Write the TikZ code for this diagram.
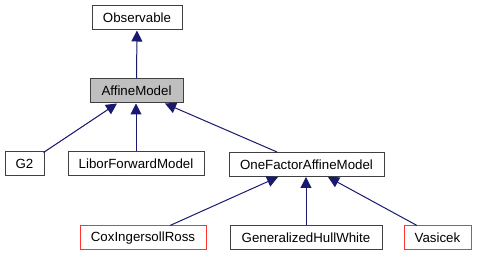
\documentclass[tikz,border=0pt]{standalone}
\usepackage{fontspec}
\setmainfont{Liberation Sans}
\usetikzlibrary{arrows.meta}
\definecolor{edgeblue}{HTML}{191970}
\definecolor{boxline}{HTML}{404040}
\definecolor{boxred}{HTML}{FF3333}
\definecolor{current}{HTML}{BFBFBF}
\tikzset{
  cls/.style={draw=boxline, line width=1pt, fill=white, inner sep=0pt,
    minimum height=24pt, font=\fontsize{13.3}{16}\selectfont},
  undoc/.style={cls, draw=boxred},
  inherit/.style={draw=edgeblue, line width=1pt,
    -{Triangle[length=11pt,width=11pt,fill=edgeblue]}}
}
\begin{document}
\begin{tikzpicture}[x=1pt,y=-1pt]
  \useasboundingbox (0,0) rectangle (477,256);
  % class boxes
  \node[cls, minimum width=90pt] (obs) at (137,18) {Observable};
  \node[cls, minimum width=93pt, fill=current] (affine) at (136.5,91) {AffineModel};
  \node[cls, minimum width=39pt] (g2) at (24.5,164) {G2};
  \node[cls, minimum width=136pt] (libor) at (136,164) {LiborForwardModel};
  \node[cls, minimum width=155pt] (onef) at (306.5,164.5) {OneFactorAffineModel};
  \node[undoc, minimum width=126pt] (cir) at (143,238) {CoxIngersollRoss};
  \node[cls, minimum width=152pt] (ghw) at (306,238) {GeneralizedHullWhite};
  \node[undoc, minimum width=67pt] (vas) at (437.5,238) {Vasicek};
  % inheritance arrows, pointing at the base class
  \draw[inherit] (affine.north) -- (obs.south);
  \draw[inherit] ([xshift=-1pt,yshift=-1pt]g2.north east) -- ([xshift=-19.5pt]affine.south);
  \draw[inherit] (libor.north) -- (libor.north |- affine.south);
  \draw[inherit] ([xshift=-29.5pt]onef.north) -- ([xshift=28.5pt]affine.south);
  \draw[inherit] ([xshift=27pt]cir.north) -- ([xshift=-28.5pt]onef.south);
  \draw[inherit] (ghw.north) -- (ghw.north |- onef.south);
  \draw[inherit] ([xshift=-20.5pt]vas.north) -- ([xshift=21.5pt]onef.south);
\end{tikzpicture}
\end{document}
